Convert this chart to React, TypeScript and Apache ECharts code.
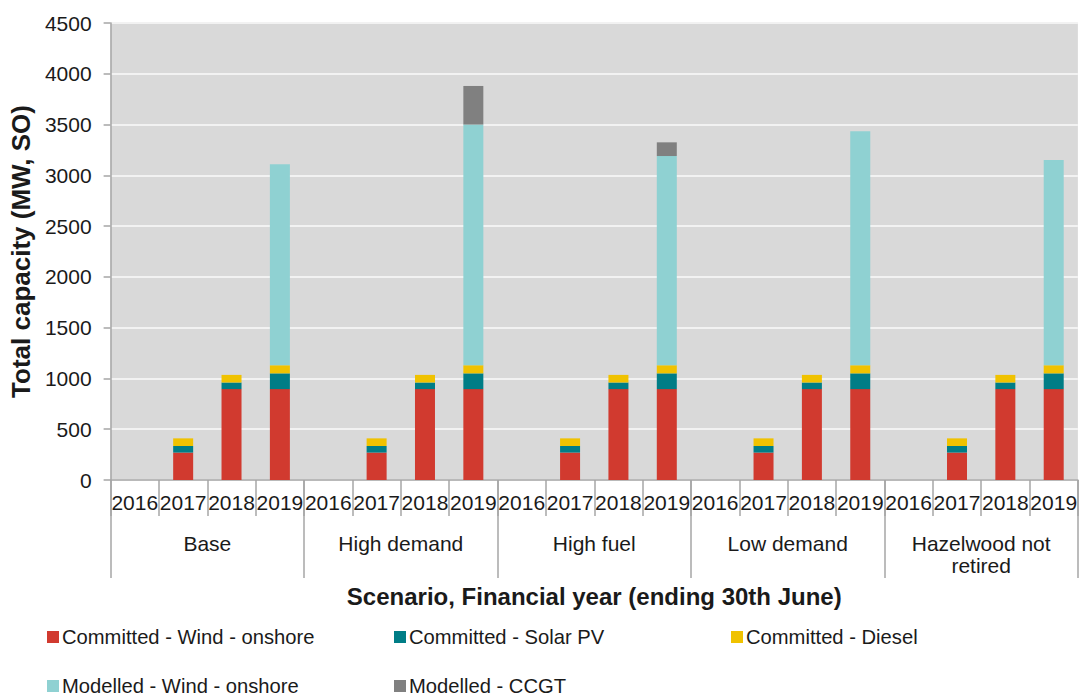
import React, { useEffect, useRef } from "react";
import * as echarts from "echarts";

const years = ["2016", "2017", "2018", "2019"];
const scenarios = ["Base", "High demand", "High fuel", "Low demand", "Hazelwood not\nretired"];
const categories = scenarios.flatMap((s) => years.map((y) => `${s}|${y}`));

const committedWind = [0, 270, 895, 895, 0, 270, 895, 895, 0, 270, 895, 895, 0, 270, 895, 895, 0, 270, 895, 895];
const committedSolar = [0, 65, 65, 155, 0, 65, 65, 155, 0, 65, 65, 155, 0, 65, 65, 155, 0, 65, 65, 155];
const committedDiesel = [0, 75, 75, 80, 0, 75, 75, 80, 0, 75, 75, 80, 0, 75, 75, 80, 0, 75, 75, 80];
const modelledWind = [0, 0, 0, 1980, 0, 0, 0, 2370, 0, 0, 0, 2060, 0, 0, 0, 2305, 0, 0, 0, 2020];
const modelledCCGT = [0, 0, 0, 0, 0, 0, 0, 380, 0, 0, 0, 135, 0, 0, 0, 0, 0, 0, 0, 0];

const seriesNames = [
  "Committed - Wind - onshore",
  "Committed - Solar PV",
  "Committed - Diesel",
  "Modelled - Wind - onshore",
  "Modelled - CCGT",
];
const seriesData = [committedWind, committedSolar, committedDiesel, modelledWind, modelledCCGT];
const colors = ["#d13a2f", "#007d86", "#f0c200", "#8fd1d2", "#808080"];

const legendPos = [
  { left: 47, top: 627 },
  { left: 394, top: 627 },
  { left: 731, top: 627 },
  { left: 47, top: 676 },
  { left: 394, top: 676 },
];

const FONT = "'Liberation Sans', Arial, sans-serif";

export default function App() {
  const ref = useRef<HTMLDivElement>(null);
  useEffect(() => {
    if (!ref.current) return;
    const chart = echarts.init(ref.current, undefined, { renderer: "svg" });
    chart.setOption({
      animation: false,
      backgroundColor: "#ffffff",
      textStyle: { fontFamily: FONT },
      grid: {
        left: 108,
        right: 2,
        top: 23,
        bottom: 217,
        show: true,
        backgroundColor: "#d9d9d9",
        borderWidth: 0,
      },
      legend: legendPos.map((p, i) => ({
        show: true,
        left: p.left,
        top: p.top,
        data: [seriesNames[i]],
        icon: "rect",
        itemWidth: 12,
        itemHeight: 12,
        itemGap: 0,
        padding: 0,
        textStyle: { fontSize: 20.2, color: "#1a1a1a", fontFamily: FONT, padding: [0, 0, 0, -2] },
        selectedMode: false,
      })),
      xAxis: [
        {
          type: "category",
          data: categories,
          position: "bottom",
          axisLine: { show: true, lineStyle: { color: "#a6a6a6", width: 1.5 } },
          axisTick: { show: true, interval: 0, length: 36, lineStyle: { color: "#a6a6a6", width: 1.5 } },
          axisLabel: {
            interval: 0,
            margin: 12,
            fontSize: 21,
            color: "#1a1a1a",
            fontFamily: FONT,
            formatter: (v: string) => v.split("|")[1],
          },
          name: "Scenario, Financial year (ending 30th June)",
          nameLocation: "middle",
          nameGap: 104,
          nameTextStyle: { fontSize: 24, fontWeight: "bold", color: "#1a1a1a", fontFamily: FONT },
        },
        {
          type: "category",
          data: scenarios,
          position: "bottom",
          axisLine: { show: false },
          axisTick: { show: true, interval: 0, length: 98, lineStyle: { color: "#a6a6a6", width: 1.5 } },
          axisLabel: {
            interval: 0,
            margin: 52,
            fontSize: 21,
            lineHeight: 22,
            color: "#1a1a1a",
            fontFamily: FONT,
          },
          splitLine: { show: false },
        },
      ],
      yAxis: {
        type: "value",
        min: 0,
        max: 4500,
        interval: 500,
        axisLine: { show: true, lineStyle: { color: "#a6a6a6", width: 1.5 } },
        axisTick: { show: true, inside: false, length: 7, lineStyle: { color: "#a6a6a6", width: 1.5 } },
        axisLabel: {
          margin: 19,
          fontSize: 21,
          color: "#1a1a1a",
          fontFamily: FONT,
          formatter: (v: number) => String(v),
        },
        splitLine: { show: true, lineStyle: { color: "#f2f2f2", width: 2 } },
        name: "Total capacity (MW, SO)",
        nameLocation: "middle",
        nameGap: 74,
        nameTextStyle: { fontSize: 26, fontWeight: "bold", color: "#1a1a1a", fontFamily: FONT },
      },
      series: seriesNames.map((name, i) => ({
        name,
        type: "bar",
        stack: "total",
        xAxisIndex: 0,
        barWidth: 20,
        data: seriesData[i],
        itemStyle: { color: colors[i] },
      })),
    });
    return () => chart.dispose();
  }, []);
  return (
    <div
      ref={ref}
      style={{ position: "fixed", left: 0, top: 0, width: 1080, height: 697 }}
    />
  );
}
